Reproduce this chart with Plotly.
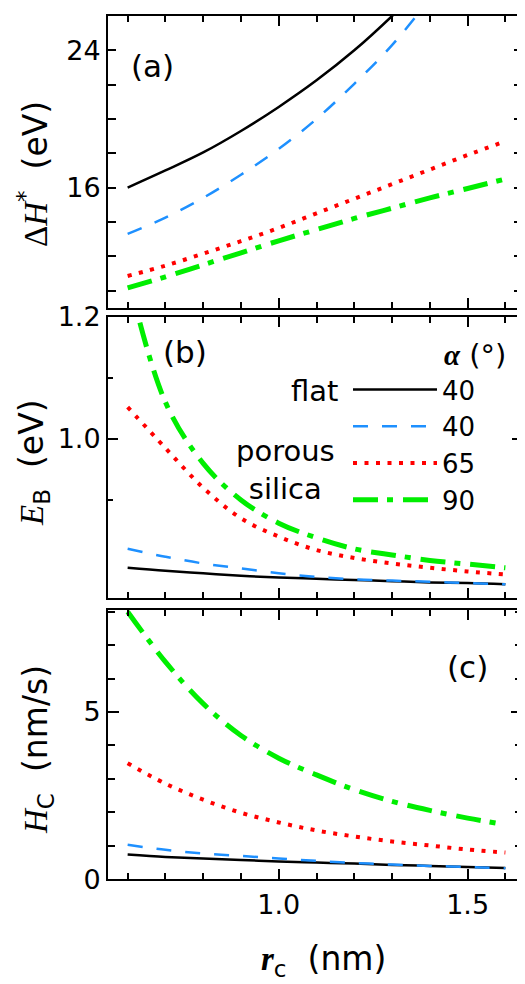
import plotly.graph_objects as go

# ---------------- data ----------------
r_c = [0.6, 0.7, 0.8, 0.9, 1.0, 1.1, 1.2, 1.3, 1.4, 1.5, 1.6]

# panel (a): Delta H* (eV)
dH_flat40 = [16.0, 17.0, 18.05, 19.3, 20.7, 22.25, 24.0, 26.0, 28.2, None, None]
dH_por40 = [13.3, 14.25, 15.4, 16.75, 18.25, 20.0, 22.05, 24.3, 27.0, None, None]
dH_por65 = [10.85, 11.45, 12.15, 12.88, 13.65, 14.5, 15.35, 16.2, 17.05, 17.9, 18.7]
dH_por90 = [10.15, 10.8, 11.5, 12.2, 12.9, 13.55, 14.2, 14.8, 15.4, 15.95, 16.5]

# panel (b): E_B (eV)
EB_flat40 = [0.789, 0.784, 0.780, 0.776, 0.773, 0.771, 0.769, 0.767, 0.765, 0.764, 0.762]
EB_por40 = [0.820, 0.807, 0.796, 0.788, 0.780, 0.774, 0.770, 0.768, 0.766, 0.764, 0.762]
EB_por65 = [1.052, 0.985, 0.920, 0.870, 0.840, 0.818, 0.805, 0.796, 0.789, 0.783, 0.778]
EB_por90 = [1.27, 1.06, 0.96, 0.90, 0.862, 0.838, 0.820, 0.810, 0.801, 0.795, 0.789]

# panel (c): H_C (nm/s)
HC_flat40 = [0.74, 0.67, 0.62, 0.58, 0.53, 0.50, 0.47, 0.43, 0.40, 0.37, 0.34]
HC_por40 = [1.03, 0.88, 0.77, 0.70, 0.62, 0.55, 0.49, 0.44, 0.40, 0.37, 0.33]
HC_por65 = [3.47, 2.86, 2.38, 1.99, 1.70, 1.46, 1.28, 1.13, 1.01, 0.89, 0.80]
HC_por90 = [8.0, 6.5, 5.25, 4.3, 3.62, 3.12, 2.68, 2.33, 2.06, 1.83, 1.63]

legend_names = ["40", "40", "65", "90"]

x_major = [1.0, 1.5]
x_major_text = ["1.0", "1.5"]
x_minor = [0.6, 0.7, 0.8, 0.9, 1.1, 1.2, 1.3, 1.4, 1.6]

ya_major = [16, 24]
ya_minor = [10, 12, 14, 18, 20, 22]
yb_major = [1.0, 1.2]
yb_minor = [0.9, 1.1]
yc_major = [0, 5]
yc_minor = [1, 2, 3, 4, 6, 7, 8]

# ---------------- styling ----------------
PAGE_OFF = 8            # default body margin of the html page
W, H = 525 - PAGE_OFF, 984 - PAGE_OFF
FONT = "DejaVu Sans"
SERIF = "Liberation Serif"

styles = [
    dict(color="#000000", width=2.5, dash="solid", shape="spline"),
    dict(color="#1E90FF", width=2.5, dash="15px,14px", shape="spline"),
    dict(color="#FF0000", width=4, dash="4px,7.5px", shape="spline"),
    dict(color="#00EE00", width=5, dash="25px,9px,6px,10px", shape="spline"),
]

fig = go.Figure()

panels = [
    ("x", "y", [dH_flat40, dH_por40, dH_por65, dH_por90], False),
    ("x2", "y2", [EB_flat40, EB_por40, EB_por65, EB_por90], True),
    ("x3", "y3", [HC_flat40, HC_por40, HC_por65, HC_por90], False),
]
order = [1, 0, 2]
for pi in order:
    xa, ya, series, showleg = panels[pi]
    for k, s in enumerate(series):
        fig.add_trace(go.Scatter(
            x=r_c, y=s, xaxis=xa, yaxis=ya, mode="lines",
            line=styles[k], name=legend_names[k], showlegend=showleg,
            connectgaps=False, hoverinfo="skip",
        ))

def px_x(p):
    return (p - PAGE_OFF) / W

def px_y(p):
    return 1 - (p - PAGE_OFF) / H

xdom = [px_x(108), px_x(522)]
doms = [
    [px_y(307.7), px_y(16)],
    [px_y(597.7), px_y(316.7)],
    [px_y(879.3), px_y(610)],
]

axis_common = dict(
    showline=True, linecolor="black", linewidth=2, mirror="ticks",
    ticks="inside", tickcolor="black", tickwidth=2,
    showgrid=False, zeroline=False, automargin=False,
    tickfont=dict(family=FONT, size=27, color="black"),
)

def xaxis(anchor, labels):
    return dict(
        axis_common, domain=xdom, anchor=anchor, range=[0.548, 1.644],
        tickmode="array", tickvals=x_major, ticktext=x_major_text,
        ticklen=10, showticklabels=labels, ticklabelstandoff=0,
        minor=dict(tickmode="array", tickvals=x_minor, ticklen=6,
                   tickwidth=2, tickcolor="black", ticks="inside"),
    )

def yaxis(anchor, dom, rng, major, text, minor, mlen, nlen):
    return dict(
        axis_common, domain=dom, anchor=anchor, range=rng,
        tickmode="array", tickvals=major, ticktext=text, ticklen=mlen,
        ticklabelstandoff=0,
        minor=dict(tickmode="array", tickvals=minor, ticklen=nlen,
                   tickwidth=2, tickcolor="black", ticks="inside"),
    )

fig.update_layout(
    template="none",
    width=W, height=H,
    margin=dict(l=0, r=0, t=0, b=0, autoexpand=False),
    paper_bgcolor="white", plot_bgcolor="white",
    xaxis=xaxis("y", False),
    xaxis2=xaxis("y2", False),
    xaxis3=xaxis("y3", True),
    yaxis=yaxis("x", doms[0], [9.0, 26.0], ya_major, ["16", "24"], ya_minor, 8, 8),
    yaxis2=yaxis("x2", doms[1], [0.74, 1.2], yb_major, ["1.0", "1.2"], yb_minor, 10, 5),
    yaxis3=yaxis("x3", doms[2], [0.0, 8.05], yc_major, ["0", "5"], yc_minor, 11, 7),
    showlegend=True,
    legend=dict(
        x=px_x(348), y=px_y(366), xanchor="left", yanchor="top",
        bgcolor="rgba(0,0,0,0)", borderwidth=0, tracegroupgap=0,
        font=dict(family=FONT, size=26, color="black"),
        itemwidth=84, itemclick=False, itemdoubleclick=False,
    ),
)

def ann(text, x, y, size, angle=0, xanchor="center", align="center"):
    fig.add_annotation(
        text=text, x=px_x(x), y=px_y(y), xref="paper", yref="paper",
        showarrow=False, textangle=angle, xanchor=xanchor, yanchor="middle",
        align=align, font=dict(family=FONT, size=size, color="black"),
    )

def serif(t):
    return f'<span style="font-family:{SERIF}">{t}</span>'

ann("(a)", 152, 66, 31)
ann("(b)", 185, 352, 31)
ann("(c)", 467, 667, 31)
ann("flat", 340, 391, 29, xanchor="right")
ann("porous<br>silica", 285, 470, 29)
ann(serif("<b><i>α</i></b>") + " (°)", 475, 355, 29)

ann(serif("Δ<i>H</i>") + "<sup>*</sup>  (eV)", 33, 174, 33, angle=-90)
ann(serif("<i>E</i>") + "<sub>B</sub>  (eV)", 33, 463, 33, angle=-90)
ann(serif("<i>H</i>") + "<sub>C</sub>  (nm/s)", 37, 750, 33, angle=-90)
ann(serif("<b><i>r</i></b>") + "<sub>c</sub>  (nm)", 323, 960, 33)

fig.write_html("out.html")
